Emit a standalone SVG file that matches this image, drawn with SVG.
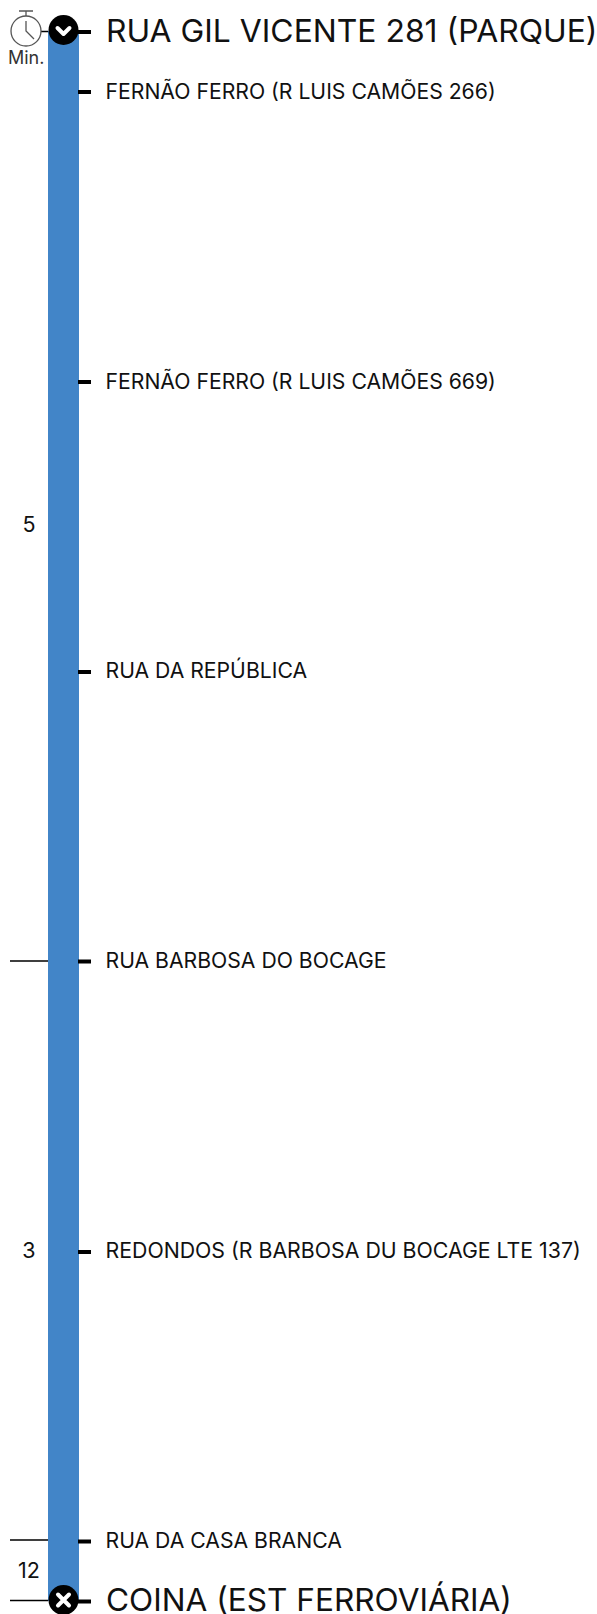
<svg xmlns="http://www.w3.org/2000/svg" width="597" height="1614" viewBox="0 0 597 1614">
<style>
text{font-family:Inter,"Liberation Sans",sans-serif;fill:#111}
.big{font-size:31.800px}
.st{font-size:21.200px}
.n{font-size:21.500px;text-anchor:middle}
.tick{stroke:#000;stroke-width:4;fill:none}
.thin{stroke:#000;stroke-width:1.500;fill:none}
.icon{fill:none;stroke:#fff;stroke-width:4;stroke-linecap:round;stroke-linejoin:round}
</style>
<rect width="597" height="1614" fill="#fff"/>
<g id="connectors">
<rect x="48" y="31" width="31" height="1570" fill="#4285c8"/>
<path class="tick" d="M78 32H91M78 92H91M78 382H91M78 672H91M78 961.500H91M78 1252H91M78 1541.500H91M78 1601.500H91"/>
<path class="thin" d="M10 961H48M10 1540H48M10 1600.500H48M41 31.500H48"/>
</g>
<g id="timer" fill="none" stroke="#555" stroke-width="1.300">
<circle cx="26" cy="31" r="15"/>
<path d="M26 16V11M19 11H33M26 21V31L34 39"/>
</g>
<text x="8" y="64" font-size="18" style="fill:#333">Min.</text>
<g id="stop-start"><circle cx="63.500" cy="30" r="15" fill="#000"/><path class="icon" d="M57.500 28L63.500 34L69.500 28"/></g>
<g id="stop-end"><circle cx="63.500" cy="1600" r="15" fill="#000"/><path class="icon" d="M58 1594.500L69 1605.500M69 1594.500L58 1605.500"/></g>
<g id="s1"><text class="big" x="106" y="42" style="font-size:31.870px">RUA GIL VICENTE 281 (PARQUE)</text></g>
<g id="s2"><text class="st" x="105.500" y="99">FERNÃO FERRO (R LUIS CAMÕES 266)</text></g>
<g id="s3"><text class="st" x="105.500" y="389">FERNÃO FERRO (R LUIS CAMÕES 669)</text></g>
<g id="s4"><text class="st" x="105.500" y="678">RUA DA REPÚBLICA</text></g>
<g id="s5"><text class="st" x="105.500" y="968">RUA BARBOSA DO BOCAGE</text></g>
<g id="s6"><text class="st" x="105.500" y="1258" style="font-size:21.300px">REDONDOS (R BARBOSA DU BOCAGE LTE 137)</text></g>
<g id="s7"><text class="st" x="105.500" y="1548">RUA DA CASA BRANCA</text></g>
<g id="s8"><text class="big" x="106" y="1611" style="font-size:31.600px">COINA (EST FERROVIÁRIA)</text></g>
<text class="n" x="29" y="532">5</text>
<text class="n" x="29" y="1258">3</text>
<text class="n" x="29" y="1578">12</text>
</svg>
